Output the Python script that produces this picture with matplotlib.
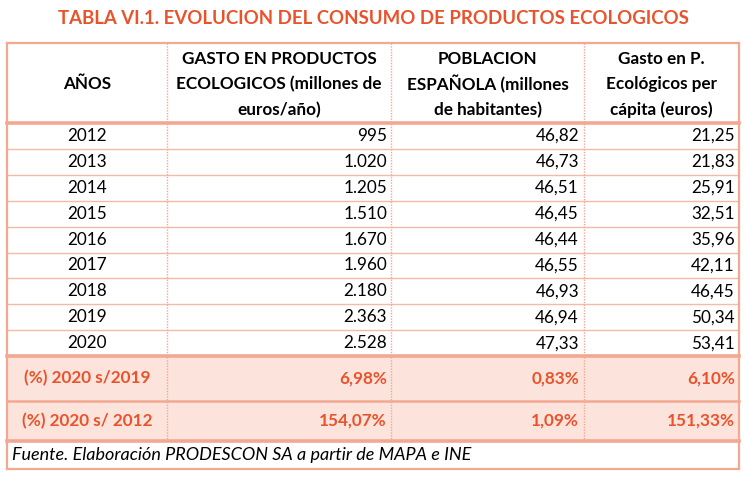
import matplotlib.pyplot as plt

plt.rcParams['font.family'] = ['Lato', 'DejaVu Sans']

title = 'TABLA VI.1. EVOLUCION DEL CONSUMO DE PRODUCTOS ECOLOGICOS'
headers = [
    ['AÑOS'],
    ['GASTO EN PRODUCTOS', 'ECOLOGICOS (millones de', 'euros/año)'],
    ['POBLACION', 'ESPAÑOLA (millones', 'de habitantes)'],
    ['Gasto en P.', 'Ecológicos per', 'cápita (euros)'],
]
years = ['2012', '2013', '2014', '2015', '2016', '2017', '2018', '2019', '2020']
gasto = ['995', '1.020', '1.205', '1.510', '1.670', '1.960', '2.180', '2.363', '2.528']
poblacion = ['46,82', '46,73', '46,51', '46,45', '46,44', '46,55', '46,93', '46,94', '47,33']
per_capita = ['21,25', '21,83', '25,91', '32,51', '35,96', '42,11', '46,45', '50,34', '53,41']
pct_labels = ['(%) 2020 s/2019', '(%) 2020 s/ 2012']
pct_gasto = ['6,98%', '154,07%']
pct_pobl = ['0,83%', '1,09%']
pct_cap = ['6,10%', '151,33%']
source = 'Fuente. Elaboración PRODESCON SA a partir de MAPA e INE'

orange = '#E9532B'
border = '#F3A892'
fill = '#FCE4DC'

fig = plt.figure(figsize=(7.49, 4.82), dpi=100)
ax = fig.add_axes([0, 0, 1, 1])
ax.set_xlim(0, 749)
ax.set_ylim(482, 0)
ax.axis('off')

col_x = [7, 167, 391, 584, 739]
top, head_bot = 43, 123
row_h = 25.9
data_bot = head_bot + row_h * len(years)
pct_bounds = [data_bot, 401, 441]
foot_bot = 469

ax.text(373, 18, title, color=orange, fontsize=13.4, fontweight='bold', ha='center', va='center')

# shaded percentage rows
ax.fill_between([col_x[0], col_x[-1]], pct_bounds[0], pct_bounds[-1], color=fill, lw=0, zorder=0)

# horizontal rules
for i in range(1, len(years)):
    y = head_bot + i * row_h
    ax.plot([col_x[0], col_x[-1]], [y, y], color=border, lw=1.0, alpha=0.8)
ax.plot([col_x[0], col_x[-1]], [top, top], color=border, lw=1.6)
ax.plot([col_x[0], col_x[-1]], [head_bot, head_bot], color=border, lw=2.6)
ax.plot([col_x[0], col_x[-1]], [data_bot, data_bot], color=border, lw=2.6)
ax.plot([col_x[0], col_x[-1]], [pct_bounds[1], pct_bounds[1]], color=border, lw=1.8)
ax.plot([col_x[0], col_x[-1]], [pct_bounds[2], pct_bounds[2]], color=border, lw=2.6)
ax.plot([col_x[0], col_x[-1]], [foot_bot, foot_bot], color=border, lw=1.6)

# vertical rules
ax.plot([col_x[0], col_x[0]], [top, foot_bot], color=border, lw=1.6)
ax.plot([col_x[-1], col_x[-1]], [top, foot_bot], color=border, lw=1.6)
for x in col_x[1:-1]:
    ax.plot([x, x], [top, pct_bounds[-1]], color=border, lw=1.0, ls=(0, (1, 1)))

# header
centers = [(col_x[i] + col_x[i + 1]) / 2 for i in range(4)]
ax.text(centers[0], 84, headers[0][0], fontsize=12.3, fontweight='bold', ha='center', va='center')
for c in range(1, 4):
    for j, line in enumerate(headers[c]):
        ax.text(centers[c], 59 + j * 25.5, line, fontsize=12.3, fontweight='bold', ha='center', va='center')

# data rows
right_x = [col_x[2] - 4, col_x[3] - 5, col_x[4] - 4]
for i, yr in enumerate(years):
    y = head_bot + (i + 0.5) * row_h
    ax.text(centers[0], y, yr, fontsize=12.3, ha='center', va='center')
    for x, val in zip(right_x, [gasto[i], poblacion[i], per_capita[i]]):
        ax.text(x, y, val, fontsize=12.3, ha='right', va='center')

# percentage rows
for i, lab in enumerate(pct_labels):
    y = (pct_bounds[i] + pct_bounds[i + 1]) / 2
    ax.text(centers[0], y, lab, fontsize=12.3, fontweight='bold', color=orange, ha='center', va='center')
    for x, val in zip(right_x, [pct_gasto[i], pct_pobl[i], pct_cap[i]]):
        ax.text(x, y, val, fontsize=12.3, fontweight='bold', color=orange, ha='right', va='center')

ax.text(12, (pct_bounds[-1] + foot_bot) / 2, source, fontsize=13.0, fontstyle='italic', ha='left', va='center')

fig.savefig('out.png', dpi=100)
